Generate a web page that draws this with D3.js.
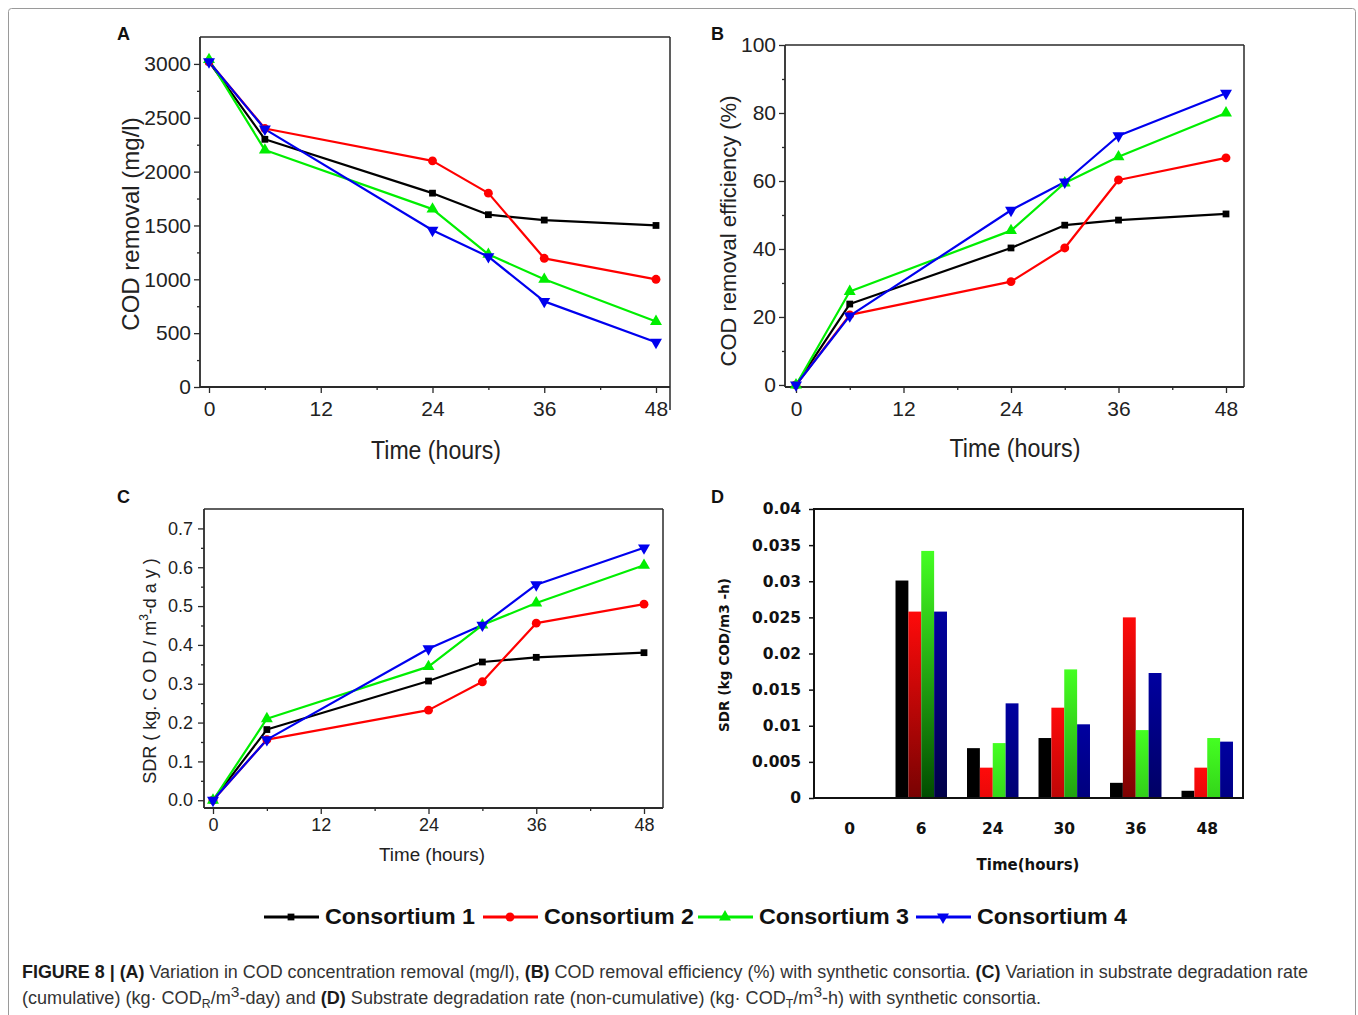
<!DOCTYPE html>
<html>
<head>
<meta charset="utf-8">
<script src="https://cdn.jsdelivr.net/npm/d3@7"></script>
<style>
  html, body { margin: 0; padding: 0; background: #fff; }
  svg { display: block; }
</style>
</head>
<body>
<svg id="chart" width="1358" height="1015"></svg>
<script>
// ---------------- DATA ----------------
const hours = [0, 6, 24, 30, 36, 48];
const consortia = ["Consortium 1", "Consortium 2", "Consortium 3", "Consortium 4"];
const seriesColors = ["#000000", "#ff0000", "#00ee00", "#0000ee"];

// Panel A: COD removal (mg/l)
const codA = [
  [3020, 2300, 1800, 1600, 1550, 1500],
  [3020, 2400, 2100, 1800, 1195, 1000],
  [3040, 2200, 1652, 1232, 1000, 608],
  [3020, 2395, 1455, 1210, 795, 415]
];
// Panel B: COD removal efficiency (%)
const effB = [
  [0, 23.8, 40.3, 47.0, 48.5, 50.3],
  [0, 20.6, 30.4, 40.3, 60.3, 66.8],
  [0, 27.5, 45.4, 59.4, 67.1, 80.0],
  [0, 20.3, 51.4, 59.7, 73.3, 85.8]
];
// Panel C: SDR cumulative (kg COD/m3-day)
const sdrC = [
  [0, 0.182, 0.307, 0.356, 0.368, 0.380],
  [0, 0.156, 0.232, 0.305, 0.456, 0.505],
  [0, 0.210, 0.344, 0.451, 0.508, 0.605],
  [0, 0.156, 0.390, 0.451, 0.555, 0.650]
];
// Panel D: SDR non-cumulative (kg COD/m3-h)
const dCategories = ["0", "6", "24", "30", "36", "48"];
const sdrD = [
  [0, 0.0301, 0.0069, 0.0083, 0.0021, 0.0010],
  [0, 0.0258, 0.0042, 0.0125, 0.0250, 0.0042],
  [0, 0.0342, 0.0076, 0.0178, 0.0094, 0.0083],
  [0, 0.0258, 0.0131, 0.0102, 0.0173, 0.0078]
];

// tick values
const xTicks = [0, 12, 24, 36, 48];
const xMinor = [6, 18, 30, 42];
const ticksA = [0, 500, 1000, 1500, 2000, 2500, 3000];
const minorA = d3.range(250, 3250, 500);
const ticksB = [0, 20, 40, 60, 80, 100];
const minorB = d3.range(10, 100, 20);
const ticksC = [0, 0.1, 0.2, 0.3, 0.4, 0.5, 0.6, 0.7];
const minorC = [0.05, 0.15, 0.25, 0.35, 0.45, 0.55, 0.65];
const ticksD = [0, 0.005, 0.01, 0.015, 0.02, 0.025, 0.03, 0.035, 0.04];

// ---------------- DRAW ----------------
const svg = d3.select("#chart");
const axisColor = "#2a2a2a";
const FONT = "'Liberation Sans', Arial, Helvetica, sans-serif";

// outer figure border
svg.append("rect")
  .attr("x", 8.5).attr("y", 8.5).attr("width", 1347).attr("height", 1030)
  .attr("rx", 3).attr("fill", "none").attr("stroke", "#9a9a9a").attr("stroke-width", 1);

const symbolTypes = [d3.symbolSquare, d3.symbolCircle, d3.symbolTriangle, d3.symbolTriangle];
const symbolSizes = [46, 62, 62, 62];
function marker(sel, i, cx, cy, scale = 1) {
  sel.append("path")
    .attr("d", d3.symbol().type(symbolTypes[i]).size(symbolSizes[i] * scale)())
    .attr("transform", `translate(${cx},${cy})` + (i === 3 ? " rotate(180)" : ""))
    .attr("fill", seriesColors[i]);
}

function panelLetter(txt, x, y) {
  svg.append("text").attr("x", x).attr("y", y).text(txt)
    .attr("font-family", FONT).attr("font-weight", "bold").attr("font-size", 18)
    .attr("fill", "#111");
}

function linePanel(o) {
  const g = svg.append("g");
  const x = d3.scaleLinear().domain([0, 48]).range([o.x0, o.x1]);
  const y = d3.scaleLinear().domain(o.yDomain).range([o.bottom, o.top]);

  // frame
  g.append("line").attr("x1", o.left).attr("x2", o.right).attr("y1", o.top).attr("y2", o.top)
    .attr("stroke", axisColor).attr("stroke-width", 1.5);
  g.append("line").attr("x1", o.right).attr("x2", o.right).attr("y1", o.top).attr("y2", o.rightBottom)
    .attr("stroke", axisColor).attr("stroke-width", 1.5);
  g.append("line").attr("x1", o.left).attr("x2", o.right).attr("y1", o.bottom).attr("y2", o.bottom)
    .attr("stroke", axisColor).attr("stroke-width", 1.8);
  g.append("line").attr("x1", o.left).attr("x2", o.left).attr("y1", o.top).attr("y2", o.bottom)
    .attr("stroke", axisColor).attr("stroke-width", 1.8);

  // x axis
  const xa = g.append("g").attr("transform", `translate(0,${o.bottom})`)
    .call(d3.axisBottom(x).tickValues(xTicks).tickSize(6).tickPadding(o.xPad).tickFormat(d3.format("d")));
  const xm = g.append("g").attr("transform", `translate(0,${o.bottom})`)
    .call(d3.axisBottom(x).tickValues(xMinor).tickSize(3).tickFormat(""));
  // y axis
  const ya = g.append("g").attr("transform", `translate(${o.left},0)`)
    .call(d3.axisLeft(y).tickValues(o.yTicks).tickSize(6).tickPadding(o.yPad).tickFormat(o.yFormat));
  const ym = g.append("g").attr("transform", `translate(${o.left},0)`)
    .call(d3.axisLeft(y).tickValues(o.yMinor).tickSize(3).tickFormat(""));
  [xa, xm, ya, ym].forEach(a => {
    a.select(".domain").remove();
    a.selectAll("line").attr("stroke", axisColor).attr("stroke-width", 1.3);
    a.selectAll("text").attr("font-family", FONT).attr("font-size", o.tickFont).attr("fill", "#222");
  });

  // series
  const line = d3.line().x((d, j) => x(hours[j])).y(d => y(d));
  o.data.forEach((vals, i) => {
    g.append("path").datum(vals).attr("d", line)
      .attr("fill", "none").attr("stroke", seriesColors[i]).attr("stroke-width", 2.2)
      .attr("stroke-linejoin", "round");
  });
  o.data.forEach((vals, i) => {
    vals.forEach((v, j) => marker(g, i, x(hours[j]), y(v)));
  });

  // axis titles
  g.append("text").attr("x", o.xTitle[0]).attr("y", o.xTitle[1]).attr("text-anchor", "middle")
    .attr("font-family", FONT).attr("font-size", o.xTitleFont).attr("fill", "#222")
    .attr("textLength", o.xTitleLen).attr("lengthAdjust", "spacingAndGlyphs")
    .text("Time (hours)");
  const yt = g.append("text")
    .attr("transform", `translate(${o.yTitle[0]},${o.yTitle[1]}) rotate(-90)`)
    .attr("text-anchor", "middle").attr("dominant-baseline", "central")
    .attr("font-family", FONT).attr("font-size", o.yTitleFont).attr("fill", "#222");
  o.yTitleBuild(yt);
}

// Panel A
panelLetter("A", 117, 40);
linePanel({
  left: 200, right: 670, top: 37, bottom: 387, rightBottom: 410,
  x0: 209, x1: 656, yDomain: [0, 3250],
  yTicks: ticksA, yMinor: minorA, yFormat: d3.format("d"),
  xPad: 8, yPad: 3, tickFont: 21,
  data: codA,
  xTitle: [436, 459], xTitleFont: 26, xTitleLen: 130,
  yTitle: [130, 224], yTitleFont: 24,
  yTitleBuild: t => t.text("COD removal (mg/l)")
});

// Panel B
panelLetter("B", 711, 40);
linePanel({
  left: 785, right: 1244, top: 45, bottom: 387, rightBottom: 387,
  x0: 796, x1: 1226, yDomain: [-0.6, 100],
  yTicks: ticksB, yMinor: minorB, yFormat: d3.format("d"),
  xPad: 8, yPad: 3, tickFont: 21,
  data: effB,
  xTitle: [1015, 457], xTitleFont: 26, xTitleLen: 131,
  yTitle: [728, 231], yTitleFont: 22,
  yTitleBuild: t => t.text("COD removal efficiency (%)")
});

// Panel C
panelLetter("C", 117, 503);
linePanel({
  left: 204, right: 663, top: 509, bottom: 808, rightBottom: 808,
  x0: 213, x1: 644, yDomain: [-0.02, 0.75],
  yTicks: ticksC, yMinor: minorC, yFormat: d3.format(".1f"),
  xPad: 4, yPad: 5, tickFont: 18,
  data: sdrC,
  xTitle: [432, 861], xTitleFont: 18, xTitleLen: 106,
  yTitle: [150, 671], yTitleFont: 18,
  yTitleBuild: t => {
    t.append("tspan").text("SDR ( kg. C O D / m");
    t.append("tspan").attr("font-size", 12).attr("dy", -6).text("3");
    t.append("tspan").attr("dy", 6).text("-d a y )");
  }
});

// Panel D (bar chart)
panelLetter("D", 711, 503);
(function () {
  const g = svg.append("g");
  const left = 814, right = 1243, top = 509, bottom = 798;
  const FD = "'DejaVu Sans', Verdana, sans-serif";
  const x0 = d3.scaleBand().domain(dCategories).range([left, right]).paddingInner(0.28).paddingOuter(0.14);
  const x1 = d3.scaleBand().domain(d3.range(consortia.length)).range([0, x0.bandwidth()]);
  const y = d3.scaleLinear().domain([0, 0.04]).range([bottom, top]);

  const bright = ["#000000", "#ff0a0a", "#44ff22", "#0000a0"];
  const dark = ["#000000", "#4a0000", "#004a00", "#000028"];
  const defs = svg.append("defs");
  const bars = [];
  sdrD.forEach((vals, i) => vals.forEach((v, j) => bars.push({ i, j, v })));
  bars.forEach((b, k) => {
    const yTop = y(b.v);
    const gr = defs.append("linearGradient").attr("id", "gD" + k)
      .attr("gradientUnits", "userSpaceOnUse")
      .attr("x1", 0).attr("x2", 0).attr("y1", yTop).attr("y2", yTop + 250);
    gr.append("stop").attr("offset", 0).attr("stop-color", bright[b.i]);
    gr.append("stop").attr("offset", 0.3).attr("stop-color", d3.interpolateRgb(bright[b.i], dark[b.i])(0.3));
    gr.append("stop").attr("offset", 1).attr("stop-color", dark[b.i]);
  });
  g.selectAll("rect.bar").data(bars).join("rect").attr("class", "bar")
    .attr("x", d => x0(dCategories[d.j]) + x1(d.i))
    .attr("width", x1.bandwidth())
    .attr("y", d => y(d.v))
    .attr("height", d => bottom - y(d.v))
    .attr("fill", (d, k) => `url(#gD${k})`);

  // frame
  g.append("rect").attr("x", left).attr("y", top).attr("width", right - left).attr("height", bottom - top)
    .attr("fill", "none").attr("stroke", "#111").attr("stroke-width", 2);

  const ya = g.append("g").attr("transform", `translate(${left},0)`)
    .call(d3.axisLeft(y).tickValues(ticksD).tickSize(5).tickPadding(8)
      .tickFormat(d => d === 0 ? "0" : String(+d.toFixed(3))));
  ya.select(".domain").remove();
  ya.selectAll("line").attr("stroke", "#111").attr("stroke-width", 1.5);
  ya.selectAll("text").attr("font-family", FD).attr("font-weight", "bold").attr("font-size", 15.5).attr("fill", "#111");

  g.selectAll("text.xl").data(dCategories).join("text").attr("class", "xl")
    .attr("x", d => x0(d) + x0.bandwidth() / 2).attr("y", 834)
    .attr("text-anchor", "middle").attr("font-family", FD).attr("font-weight", "bold")
    .attr("font-size", 15.5).attr("fill", "#111").text(d => d);

  g.append("text").attr("x", 1028).attr("y", 870).attr("text-anchor", "middle")
    .attr("font-family", FD).attr("font-weight", "bold").attr("font-size", 15).attr("fill", "#111")
    .text("Time(hours)");
  g.append("text").attr("transform", "translate(724,655) rotate(-90)")
    .attr("text-anchor", "middle").attr("dominant-baseline", "central")
    .attr("font-family", FD).attr("font-weight", "bold").attr("font-size", 14.5).attr("fill", "#111")
    .attr("textLength", 154).attr("lengthAdjust", "spacingAndGlyphs")
    .text("SDR (kg COD/m3 -h)");
})();

// Legend
const legendX = [264, 483, 698, 916];
const legend = svg.append("g");
consortia.forEach((name, i) => {
  const lx = legendX[i], ly = 917;
  legend.append("line").attr("x1", lx).attr("x2", lx + 55).attr("y1", ly).attr("y2", ly)
    .attr("stroke", seriesColors[i]).attr("stroke-width", 3);
  marker(legend, i, lx + 27, ly, 1.0);
  legend.append("text").attr("x", lx + 61).attr("y", ly).attr("dominant-baseline", "central")
    .attr("font-family", FONT).attr("font-weight", "bold").attr("font-size", 21.5).attr("fill", "#111")
    .attr("textLength", 150).attr("lengthAdjust", "spacingAndGlyphs")
    .text(name);
});

// Caption
const cap = svg.append("g").attr("font-family", FONT).attr("font-size", 17.5).attr("fill", "#333");
const l1 = cap.append("text").attr("x", 22).attr("y", 978)
  .attr("textLength", 1286).attr("lengthAdjust", "spacingAndGlyphs");
const parts1 = [
  ["FIGURE 8 | (A)", true], [" Variation in COD concentration removal (mg/l), ", false],
  ["(B)", true], [" COD removal efficiency (%) with synthetic consortia. ", false],
  ["(C)", true], [" Variation in substrate degradation rate", false]
];
parts1.forEach(([t, b]) => l1.append("tspan").attr("font-weight", b ? "bold" : null)
  .attr("fill", b ? "#1a1a1a" : null).text(t));

const l2 = cap.append("text").attr("x", 22).attr("y", 1004)
  .attr("textLength", 1019).attr("lengthAdjust", "spacingAndGlyphs");
l2.append("tspan").text("(cumulative) (kg\u00B7 COD");
l2.append("tspan").attr("font-size", 12).attr("dy", 4).text("R");
l2.append("tspan").attr("dy", -4).text("/m");
l2.append("tspan").attr("font-size", 15).attr("dy", -7).text("3");
l2.append("tspan").attr("dy", 7).text("-day) and ");
l2.append("tspan").attr("font-weight", "bold").attr("fill", "#1a1a1a").text("(D)");
l2.append("tspan").text(" Substrate degradation rate (non-cumulative) (kg\u00B7 COD");
l2.append("tspan").attr("font-size", 12).attr("dy", 4).text("T");
l2.append("tspan").attr("dy", -4).text("/m");
l2.append("tspan").attr("font-size", 15).attr("dy", -7).text("3");
l2.append("tspan").attr("dy", 7).text("-h) with synthetic consortia.");
</script>
</body>
</html>
